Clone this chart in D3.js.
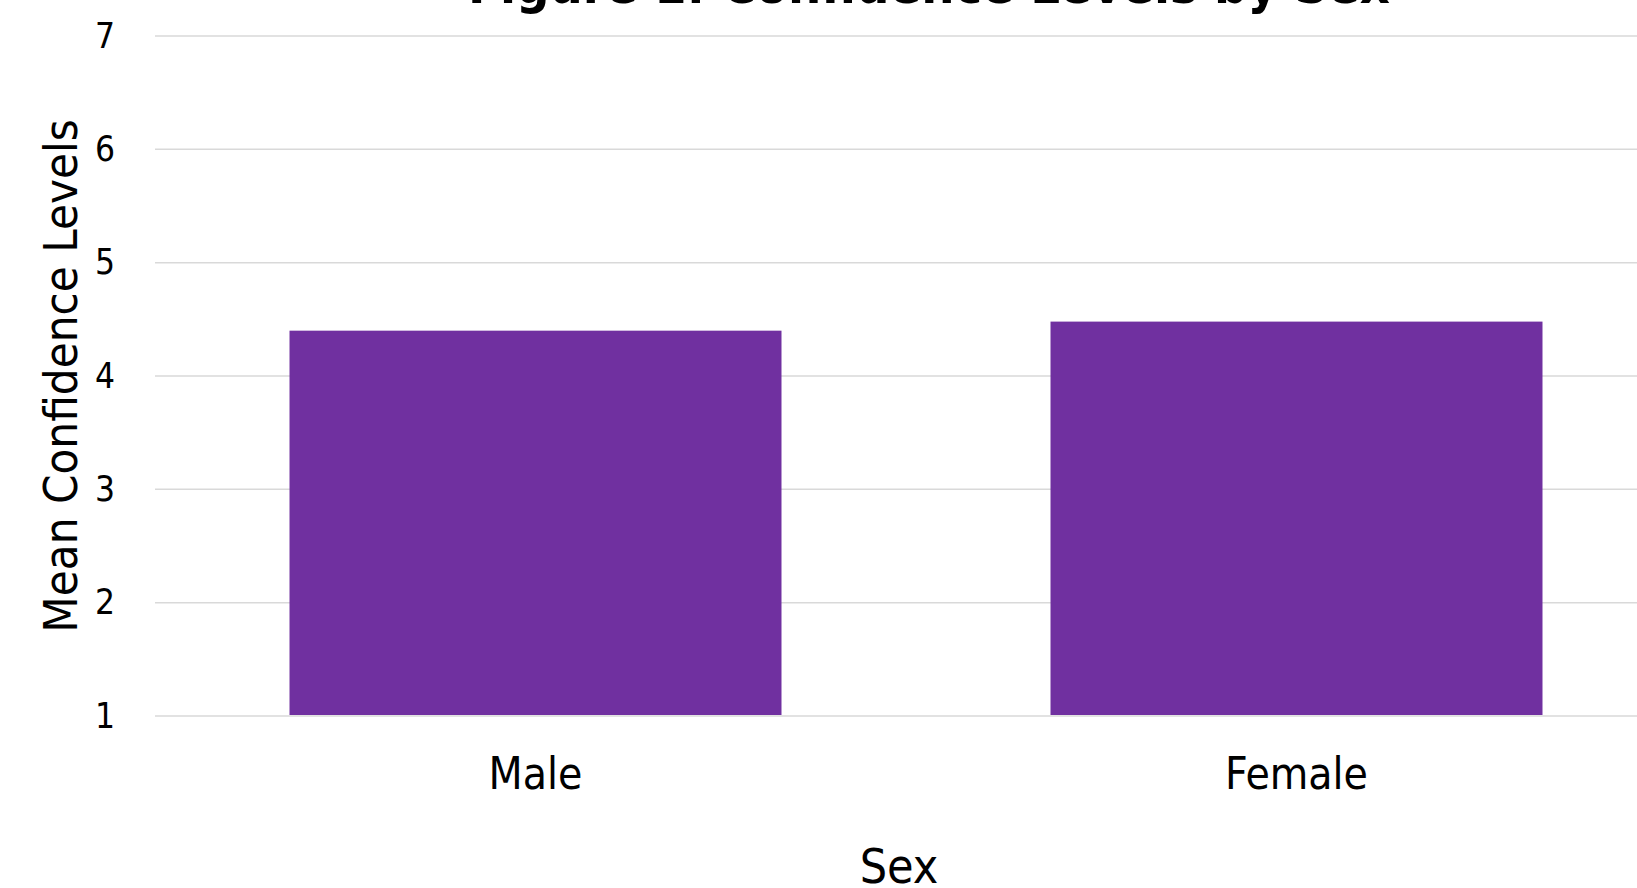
<!DOCTYPE html>
<html>
<head>
<meta charset="utf-8">
<script src="https://cdn.jsdelivr.net/npm/d3@7"></script>
<style>
  html, body { margin: 0; padding: 0; background: #ffffff; overflow: hidden; }
  svg { display: block; font-family: "DejaVu Sans Condensed", "DejaVu Sans", sans-serif; font-stretch: condensed; }
</style>
</head>
<body>
<svg id="chart"></svg>
<script>
// chart data
var categories = ["Male", "Female"];
var meanConfidence = [4.40, 4.48];
var yTicks = [1, 2, 3, 4, 5, 6, 7];
var titleText = "Figure 1: Confidence Levels by Sex";
var xTitle = "Sex";
var yTitle = "Mean Confidence Levels";

var width = 1637, height = 888;
var barColor = "#7030a0";
var gridColor = "#d9d9d9";

var svg = d3.select("#chart")
  .attr("width", width)
  .attr("height", height);

// plot area runs past the right edge (chart is cropped there)
var plotLeft = 155, plotRight = 1677;
var plotTop = 36, plotBottom = 716;

var x = d3.scaleBand()
  .domain(categories)
  .range([plotLeft, plotRight])
  .paddingInner(0.3535)
  .paddingOuter(0.3535 / 2);

var y = d3.scaleLinear()
  .domain([1, 7])
  .range([plotBottom, plotTop]);

// gridlines
svg.append("g")
  .selectAll("line")
  .data(yTicks)
  .enter().append("line")
  .attr("x1", plotLeft)
  .attr("x2", width)
  .attr("y1", d => y(d))
  .attr("y2", d => y(d))
  .attr("stroke", gridColor)
  .attr("stroke-width", 1.5);

// bars
var data = categories.map((c, i) => ({ cat: c, value: meanConfidence[i] }));
svg.append("g")
  .selectAll("rect")
  .data(data)
  .enter().append("rect")
  .attr("x", d => x(d.cat))
  .attr("y", d => y(d.value))
  .attr("width", x.bandwidth())
  .attr("height", d => y(1) - y(d.value) - 1)
  .attr("fill", barColor);

// y axis tick labels
var yAxis = svg.append("g")
  .attr("transform", "translate(" + (plotLeft - 40) + ",0)")
  .call(d3.axisLeft(y).tickValues(yTicks).tickSize(0).tickPadding(0).tickFormat(d3.format("d")))
  .attr("font-family", null)
  .attr("font-size", null);
yAxis.select(".domain").remove();
yAxis.selectAll("text")
  .attr("font-size", 35)
  .attr("fill", "#000");

// x axis tick labels
var xAxis = svg.append("g")
  .attr("transform", "translate(0," + plotBottom + ")")
  .call(d3.axisBottom(x).tickSize(0).tickPadding(0))
  .attr("font-family", null)
  .attr("font-size", null);
xAxis.select(".domain").remove();
xAxis.selectAll("text")
  .attr("dy", null)
  .attr("y", 73)
  .attr("font-size", 44)
  .attr("fill", "#000");

// titles (title is cropped at the top edge, as in the source)
svg.append("text")
  .attr("x", 929)
  .attr("y", 3)
  .attr("text-anchor", "middle")
  .attr("font-size", 52)
  .attr("font-weight", "bold")
  .text(titleText);

svg.append("text")
  .attr("x", 899)
  .attr("y", 883)
  .attr("text-anchor", "middle")
  .attr("font-size", 48)
  .text(xTitle);

svg.append("text")
  .attr("transform", "translate(77,376) rotate(-90)")
  .attr("text-anchor", "middle")
  .attr("font-size", 47)
  .text(yTitle);
</script>
</body>
</html>
